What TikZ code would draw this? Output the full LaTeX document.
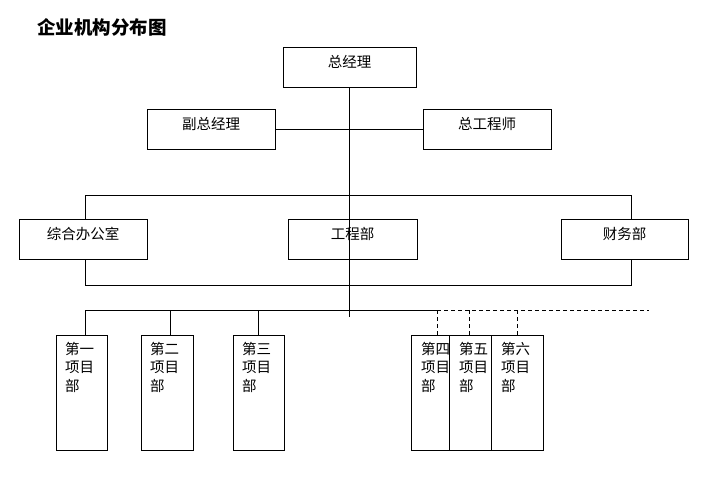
\documentclass[tikz,border=0pt]{standalone}
\usepackage{fontspec}
\setmainfont{Noto Sans CJK SC}
\begin{document}
\begin{tikzpicture}[x=1pt,y=-1pt,line width=0.8pt,
  box/.style={draw,rectangle,inner sep=0pt,text height=10pt,text depth=10pt,font=\fontsize{14.5}{16}\selectfont},
  tall/.style={draw,rectangle,inner sep=0pt,minimum height=115pt},
  btxt/.style={anchor=north west,align=left,inner sep=0pt,font=\fontsize{14.5}{18.5}\selectfont},
  dlink/.style={dash pattern=on 4pt off 3pt}]
\useasboundingbox (0,0) rectangle (707,482);
\node[anchor=west,inner sep=0pt,font=\fontsize{18.5}{20}\selectfont\bfseries] (title) at (37,27) {企业机构分布图};
% top level
\node[box,minimum width=133pt,minimum height=40pt] (zjl) at (349.5,67) {总经理};
\node[box,minimum width=128pt,minimum height=40pt] (fzjl) at (211,129) {副总经理};
\node[box,minimum width=128pt,minimum height=40pt] (zgcs) at (487,129) {总工程师};
% departments
\node[box,minimum width=128pt,minimum height=40pt] (zhbgs) at (83,239) {综合办公室};
\node[box,minimum width=129pt,minimum height=40pt] (gcb) at (352.5,239) {工程部};
\node[box,minimum width=127pt,minimum height=40pt] (cwb) at (624.5,239) {财务部};
% project departments
\node[tall,minimum width=51pt] (xm1) at (81.5,392.5) {};
\node[tall,minimum width=52pt] (xm2) at (167,392.5) {};
\node[tall,minimum width=51pt] (xm3) at (258.5,392.5) {};
\node[tall,minimum width=38pt] (xm4) at (430,392.5) {};
\node[tall,minimum width=42pt] (xm5) at (470,392.5) {};
\node[tall,minimum width=52pt] (xm6) at (517,392.5) {};
\node[btxt] (t1) at ([xshift=9pt,yshift=-7pt]xm1.north west) {第一\\项目\\部};
\node[btxt] (t2) at ([xshift=9pt,yshift=-7pt]xm2.north west) {第二\\项目\\部};
\node[btxt] (t3) at ([xshift=9pt,yshift=-7pt]xm3.north west) {第三\\项目\\部};
\node[btxt] (t4) at ([xshift=10pt,yshift=-7pt]xm4.north west) {第四\\项目\\部};
\node[btxt] (t5) at ([xshift=10pt,yshift=-7pt]xm5.north west) {第五\\项目\\部};
\node[btxt] (t6) at ([xshift=10pt,yshift=-7pt]xm6.north west) {第六\\项目\\部};
% coordinates
\coordinate (mend) at (349,317);
\coordinate (tl) at (85,195);
\coordinate (tr) at (631,195);
\coordinate (bl) at (85,285);
\coordinate (br) at (631,285);
\coordinate (pl) at (85,310);
\coordinate (pm) at (437,310);
\coordinate (pr) at (649,310);
\coordinate (d2) at (170,310);
\coordinate (d3) at (258,310);
\coordinate (d5) at (469,310);
\coordinate (d6) at (517,310);
% connectors
\draw (zjl.south -| mend) -- (mend);
\draw (fzjl.east) -- (zgcs.west);
\draw (zhbgs.north -| tl) -- (tl) -- (tr) -- (cwb.north -| tr);
\draw (zhbgs.south -| bl) -- (bl) -- (br) -- (cwb.south -| br);
\draw (pl) -- (pm);
\draw[dlink] (pm) -- (pr);
\draw (pl) -- (xm1.north -| pl);
\draw (d2) -- (xm2.north -| d2);
\draw (d3) -- (xm3.north -| d3);
\draw[dlink] (pm) -- (xm4.north -| pm);
\draw[dlink] (d5) -- (xm5.north -| d5);
\draw[dlink] (d6) -- (xm6.north -| d6);
\end{tikzpicture}
\end{document}
